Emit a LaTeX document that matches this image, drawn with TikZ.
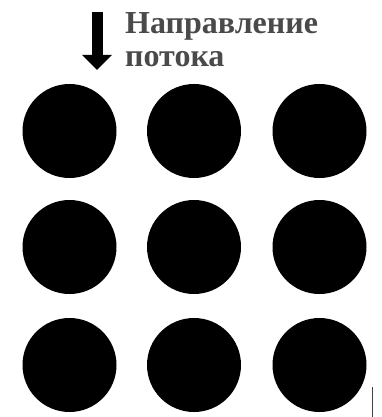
\documentclass[tikz,border=0pt]{standalone}
\usepackage{fontspec}
\setmainfont{Liberation Serif}
\usetikzlibrary{positioning,arrows.meta}
\definecolor{lblgray}{HTML}{4A4A4A}

\begin{document}
\begin{tikzpicture}[x=1pt, y=-1pt, every node/.style={font=\bfseries\fontsize{32}{33}\selectfont}]
\tikzstyle{dot}=[circle, fill=black, minimum size=94pt, inner sep=0pt]
\tikzstyle{lbl}=[text=lblgray, inner sep=0pt, anchor=base west]
\useasboundingbox (0,0) rectangle (382,417);
% 3x3 grid of cylinders
\foreach \c/\x in {1/69.5, 2/194, 3/319.5}
  \foreach \r/\y in {1/131, 2/247, 3/365}
    \node[dot] (d\r\c) at (\x,\y) {};
% flow direction
\node[lbl] (flow1) at (125,34) {Направление};
\node[lbl] (flow2) at ([yshift=-33pt]flow1.base west) {потока};
\coordinate (arrtop) at (97,12);
\coordinate (arrtip) at (97,70);
\draw[line width=11pt, -{Triangle[width=29pt, length=15pt]}] (arrtop) -- (arrtip);
% small mark
\coordinate (marktop) at (372.7,387);
\coordinate (markbot) at (372.7,417);
\draw[line width=1.5pt, black!75] (marktop) -- (markbot);
\end{tikzpicture}
\end{document}
